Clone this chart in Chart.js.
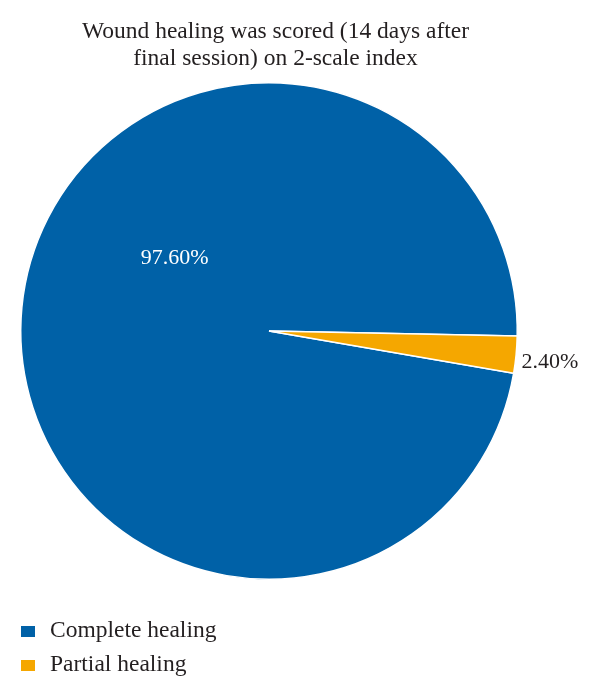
<!DOCTYPE html>
<html lang="en">
<head>
    <meta charset="UTF-8">
    <title>Wound healing</title>
    <style>
        html, body { margin: 0; padding: 0; background: #fff; }
        #wrap { width: 600px; height: 697px; }
    </style>
</head>
<body>
    <div id="wrap"><canvas id="healingPie"></canvas></div>

    <script src="https://cdn.jsdelivr.net/npm/chart.js"></script>
    <script>
        const categories = ['Complete healing', 'Partial healing'];
        const percentages = [97.6, 2.4];
        const sliceColors = ['#0061a7', '#f5a700'];
        const titleLines = ['Wound healing was scored (14 days after', 'final session) on 2-scale index'];

        const serif = '"Liberation Serif", "DejaVu Serif", serif';

        // title, slice labels and the stacked legend are drawn by hand
        const decorations = {
            id: 'decorations',
            afterDraw(chart) {
                const ctx = chart.ctx;
                ctx.save();
                ctx.fillStyle = '#231f20';
                ctx.font = '23.5px ' + serif;
                ctx.textAlign = 'center';
                ctx.textBaseline = 'alphabetic';
                ctx.fillText(titleLines[0], 275.5, 38);
                ctx.fillText(titleLines[1], 275.5, 65);

                const arcs = chart.getDatasetMeta(0).data;

                // big slice label sits inside, up and left of centre
                ctx.font = '22px ' + serif;
                const a0 = arcs[0];
                const ang = 217.7 * Math.PI / 180;
                ctx.fillStyle = '#ffffff';
                ctx.textBaseline = 'middle';
                ctx.fillText(percentages[0].toFixed(2) + '%',
                    a0.x + Math.cos(ang) * a0.outerRadius * 0.48,
                    a0.y + Math.sin(ang) * a0.outerRadius * 0.48);

                // small slice label sits just outside the rim
                const a1 = arcs[1];
                const mid = (a1.startAngle + a1.endAngle) / 2;
                ctx.fillStyle = '#231f20';
                ctx.textAlign = 'left';
                ctx.fillText(percentages[1].toFixed(2) + '%',
                    a1.x + Math.cos(mid) * (a1.outerRadius + 6) - 0.5,
                    a1.y + Math.sin(mid) * (a1.outerRadius + 6) + 7);

                // legend
                ctx.font = '23.5px ' + serif;
                ctx.textBaseline = 'alphabetic';
                categories.forEach((name, i) => {
                    const base = 637 + i * 34;
                    ctx.fillStyle = sliceColors[i];
                    ctx.fillRect(21, base - 11, 14, 11);
                    ctx.fillStyle = '#231f20';
                    ctx.fillText(name, 50, base);
                });
                ctx.restore();
            }
        };

        const ctx = document.getElementById('healingPie').getContext('2d');
        const pieChart = new Chart(ctx, {
            type: 'pie',
            data: {
                labels: categories,
                datasets: [{
                    data: percentages,
                    backgroundColor: sliceColors,
                    borderColor: '#ffffff',
                    borderWidth: 1.5
                }]
            },
            options: {
                responsive: true,
                maintainAspectRatio: false,
                animation: false,
                rotation: 99.8,
                layout: {
                    padding: { top: 82, bottom: 117, left: 20, right: 82 }
                },
                plugins: {
                    legend: { display: false },
                    title: { display: false },
                    tooltip: { enabled: false }
                }
            },
            plugins: [decorations]
        });
    </script>
</body>
</html>
